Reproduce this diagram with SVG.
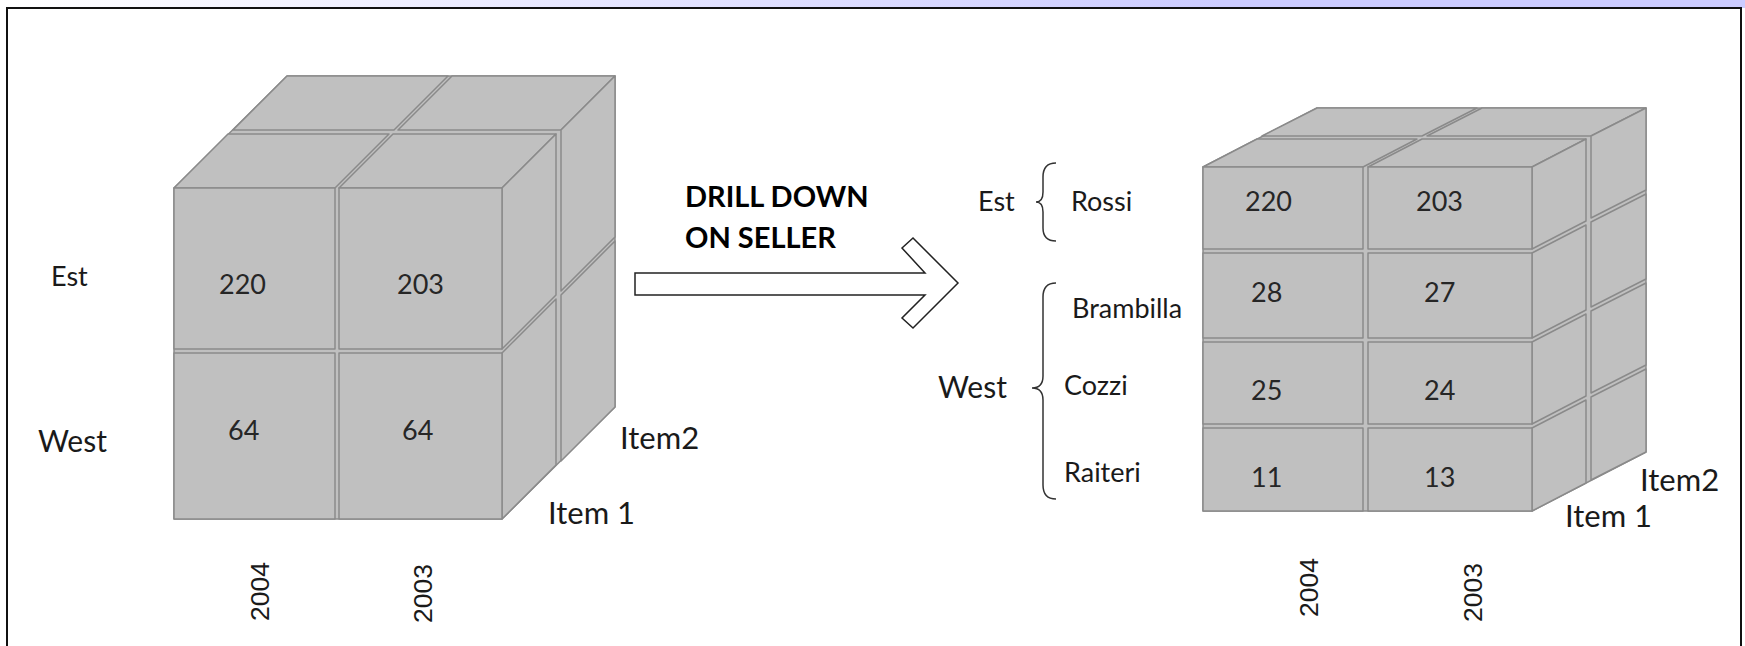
<svg xmlns="http://www.w3.org/2000/svg" width="1745" height="646" viewBox="0 0 1745 646">
<defs>
<linearGradient id="band" x1="0" y1="0" x2="1" y2="0">
<stop offset="0" stop-color="#ffffff"/>
<stop offset="0.7" stop-color="#ccccff"/>
<stop offset="1" stop-color="#ccccff"/>
</linearGradient>
</defs>
<style>
.face{fill:#c0c0c0;stroke:#8a8a8a;stroke-width:1.5;stroke-linejoin:round}
.sil{fill:#c0c0c0;stroke:#8a8a8a;stroke-width:1.5;stroke-linejoin:round}
.lbl{font-family:Lato,"Open Sans",sans-serif;fill:#1a1a1a}
.num{font-family:Lato,"Open Sans",sans-serif;font-size:27px;fill:#262626}
.yr{font-family:"Liberation Sans",Arial,sans-serif;font-size:26.5px;fill:#1a1a1a}
.brace{fill:none;stroke:#333333;stroke-width:1.5}
.arrow{fill:#ffffff;stroke:#222222;stroke-width:1.5;stroke-linejoin:miter}
.title{font-family:Lato,"Open Sans",sans-serif;font-weight:bold;font-size:29px;fill:#000000}
</style>
<rect x="0" y="0" width="1745" height="646" fill="#ffffff"/>
<rect x="0" y="0" width="1745" height="8" fill="url(#band)"/>
<path d="M7,650 L7,8 L1741,8 L1741,650" fill="none" stroke="#111111" stroke-width="2"/>

<g id="cube-left">
<polygon class="sil" points="174,519 174,188 287,76 615,76 615,407 502,519"/>
<g id="cube-left-top">
<polygon class="face" points="233,130 394,130 448,76 287,76"/>
<polygon class="face" points="398,130 561,130 615,76 452,76"/>
<polygon class="face" points="174,188 335,188 389,134 228,134"/>
<polygon class="face" points="339,188 502,188 556,134 393,134"/>
</g>
<g id="cube-left-right">
<polygon class="face" points="561,130 615,76 615,237 561,291"/>
<polygon class="face" points="561,295 615,241 615,407 561,461"/>
<polygon class="face" points="502,188 556,134 556,295 502,349"/>
<polygon class="face" points="502,353 556,299 556,465 502,519"/>
</g>
<g id="cell-left-est-2004"><rect class="face" x="174" y="188" width="161" height="161"/><text class="num" x="219" y="294">220</text></g>
<g id="cell-left-est-2003"><rect class="face" x="339" y="188" width="163" height="161"/><text class="num" x="397" y="294">203</text></g>
<g id="cell-left-west-2004"><rect class="face" x="174" y="353" width="161" height="166"/><text class="num" x="228" y="440">64</text></g>
<g id="cell-left-west-2003"><rect class="face" x="339" y="353" width="163" height="166"/><text class="num" x="402" y="440">64</text></g>
</g>

<g id="labels-left">
<text class="lbl" x="51" y="286" font-size="27">Est</text>
<text class="lbl" x="38" y="452" font-size="30">West</text>
<text class="lbl" x="620" y="449" font-size="31">Item2</text>
<text class="lbl" x="548" y="524" font-size="31">Item 1</text>
<text class="yr" transform="translate(269,621) rotate(-90)">2004</text>
<text class="yr" transform="translate(432,623) rotate(-90)">2003</text>
</g>

<g id="connectors">
<polygon class="arrow" points="635,273 925,273 902,248 913,238 958,283 913,328 902,318 925,295 635,295"/>
</g>
<g id="arrow-label">
<text class="title" x="685" y="207">DRILL DOWN</text>
<text class="title" x="685" y="248">ON SELLER</text>
</g>

<g id="cube-right">
<polygon class="sil" points="1203,511 1203,167 1317,108 1646,108 1646,452 1532,511"/>
<g id="cube-right-top">
<polygon class="face" points="1262,136 1422,136 1477,108 1317,108"/>
<polygon class="face" points="1427,136 1591,136 1646,108 1482,108"/>
<polygon class="face" points="1203,167 1363,167 1417,139 1257,139"/>
<polygon class="face" points="1368,167 1532,167 1586,139 1422,139"/>
</g>
<g id="cube-right-side">
<polygon class="face" points="1591,136 1646,108 1646,190 1591,218"/>
<polygon class="face" points="1591,222 1646,194 1646,279 1591,307"/>
<polygon class="face" points="1591,311 1646,283 1646,365 1591,393"/>
<polygon class="face" points="1591,397 1646,369 1646,452 1591,480"/>
<polygon class="face" points="1532,167 1586,139 1586,221 1532,249"/>
<polygon class="face" points="1532,253 1586,225 1586,310 1532,338"/>
<polygon class="face" points="1532,342 1586,314 1586,396 1532,424"/>
<polygon class="face" points="1532,428 1586,400 1586,483 1532,511"/>
</g>
<g id="cell-rossi-2004"><rect class="face" x="1203" y="167" width="160" height="82"/><text class="num" x="1245" y="211">220</text></g>
<g id="cell-rossi-2003"><rect class="face" x="1368" y="167" width="164" height="82"/><text class="num" x="1416" y="211">203</text></g>
<g id="cell-brambilla-2004"><rect class="face" x="1203" y="253" width="160" height="85"/><text class="num" x="1251" y="302">28</text></g>
<g id="cell-brambilla-2003"><rect class="face" x="1368" y="253" width="164" height="85"/><text class="num" x="1424" y="302">27</text></g>
<g id="cell-cozzi-2004"><rect class="face" x="1203" y="342" width="160" height="82"/><text class="num" x="1251" y="400">25</text></g>
<g id="cell-cozzi-2003"><rect class="face" x="1368" y="342" width="164" height="82"/><text class="num" x="1424" y="400">24</text></g>
<g id="cell-raiteri-2004"><rect class="face" x="1203" y="428" width="160" height="83"/><text class="num" x="1251" y="487">11</text></g>
<g id="cell-raiteri-2003"><rect class="face" x="1368" y="428" width="164" height="83"/><text class="num" x="1424" y="487">13</text></g>
</g>

<g id="labels-right">
<text class="lbl" x="978" y="211" font-size="27">Est</text>
<path class="brace" d="M1056,163 Q1043,163 1043,177 L1043,192 Q1043,202 1036,202 Q1043,202 1043,212 L1043,228 Q1043,241 1056,241"/>
<text class="lbl" x="1071" y="211" font-size="27">Rossi</text>
<text class="lbl" x="938" y="398" font-size="30">West</text>
<path class="brace" d="M1056,283 Q1043,283 1043,297 L1043,376 Q1043,388 1032,388 Q1043,388 1043,400 L1043,485 Q1043,499 1056,499"/>
<text class="lbl" x="1072" y="318" font-size="27">Brambilla</text>
<text class="lbl" x="1064" y="395" font-size="27">Cozzi</text>
<text class="lbl" x="1064" y="482" font-size="27">Raiteri</text>
<text class="lbl" x="1640" y="491" font-size="31">Item2</text>
<text class="lbl" x="1565" y="527" font-size="31">Item 1</text>
<text class="yr" transform="translate(1318,617) rotate(-90)">2004</text>
<text class="yr" transform="translate(1482,622) rotate(-90)">2003</text>
</g>
</svg>
